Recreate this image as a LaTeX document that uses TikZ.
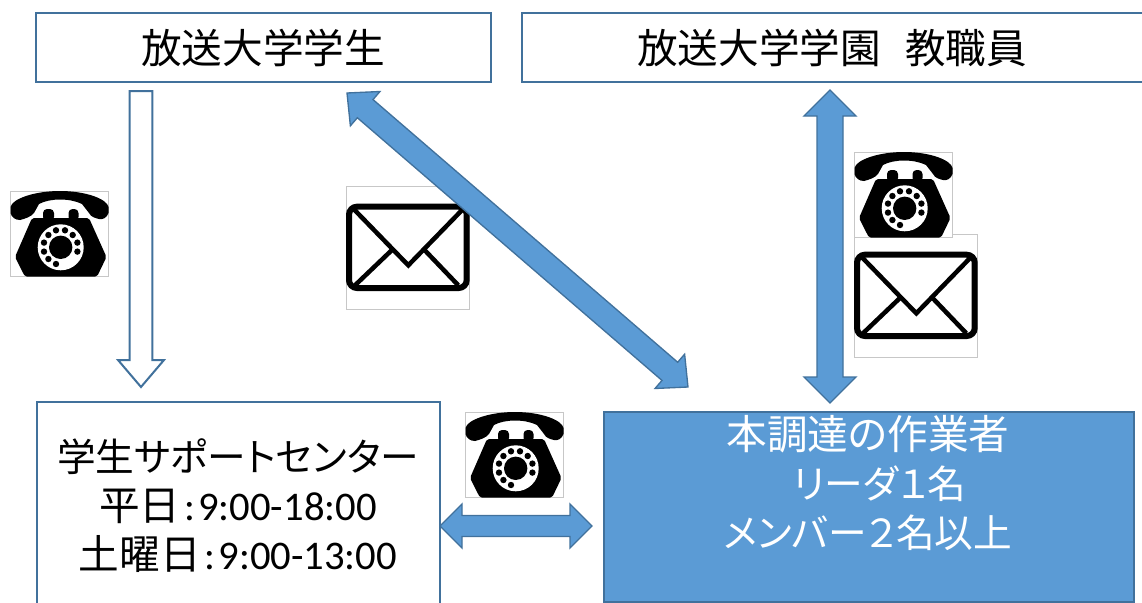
\documentclass[tikz,border=0pt]{standalone}
\usepackage{fontspec}
\usetikzlibrary{calc}
\setmainfont{Noto Sans CJK JP}[RawFeature={+palt}]
\newfontfamily\latinf{Carlito}
\definecolor{bluefill}{HTML}{5B9BD5}
\definecolor{blueline}{HTML}{41719C}
\newcommand{\bigline}{\fontsize{30.5pt}{36.75pt}\selectfont}
\tikzset{
  frame box/.style={draw=blueline,line width=1.5pt,fill=white,rectangle,inner sep=0pt},
  title text/.style={font=\fontsize{29pt}{36.75pt}\selectfont,text=black,align=center,inner sep=0pt},
  white text/.style={title text,text=white},
  filled arrow/.style={draw=blueline,line width=1pt,fill=bluefill,line join=miter},
  hollow arrow/.style={draw=blueline,line width=1.5pt,fill=white,line join=miter},
  icon frame/.style={draw=black!22,line width=0.5pt,fill=white},
  phone/.pic={
    \draw[icon frame] (0,0) rectangle (98.7,85.7);
    \fill[black] (0.5,16) .. controls (2,8) and (24,0) .. (50,0)
      .. controls (76,0) and (97,8) .. (98.5,16) -- (98.5,22)
      .. controls (97,27) and (92,29) .. (89,28)
      .. controls (85,27) and (81,26) .. (79,22) -- (72,13)
      .. controls (60,7) and (40,7) .. (29,13) -- (24,22)
      .. controls (21,26) and (14,28) .. (10,29)
      .. controls (5,29) and (1.5,26) .. (0.5,22) -- cycle;
    \fill[black,rounded corners=3pt] (33,30) -- (33,18) -- (44,18) -- (44,30) -- cycle;
    \fill[black,rounded corners=3pt] (58.5,30) -- (58.5,18) -- (68.5,18) -- (68.5,30) -- cycle;
    \fill[black,rounded corners=1.5pt] (22,27) -- (79,27) -- (96.5,66) -- (87,85.7) -- (15,85.7) -- (5,66) -- cycle;
    \fill[white] (50.7,56.3) circle[radius=23];
    \fill[black] (50.7,56.3) circle[radius=11.7];
    \foreach \dx/\dy in {-12.3/-12.3,-4.7/-17,4.3/-17,12/-12.3,16.7/-4.7,16.7/4.3,-16.7/-4.7,-16.7/4.3,-12.3/11.7,-4.7/16.7}
      \fill[black] ($(50.7,56.3)+(\dx,\dy)$) circle[radius=3.2];
  },
  mail/.pic={
    \draw[icon frame] (0,0) rectangle (123,123.3);
    \draw[black,line width=4.5pt,rounded corners=6pt] (3,20.7) rectangle (120.7,102);
    \draw[black,line width=3.4pt,line join=miter] (5.7,21) -- (62.3,79.3) -- (119,21);
    \draw[black,line width=3.4pt] (9,99.3) -- (47.3,62.7);
    \draw[black,line width=3.4pt] (112.3,99.3) -- (77.3,62.7);
  },
}
% tip a, tip b, head length, half head, half shaft (lengths in pt), style
\newcommand{\doublearrow}[6]{%
  \coordinate (h1) at ($(#1)!#3!(#2)$);
  \coordinate (h2) at ($(#2)!#3!(#1)$);
  \draw[#6] (#1) -- ($(h1)!#4!90:(#2)$) -- ($(h1)!#5!90:(#2)$)
    -- ($(h2)!#5!-90:(#1)$) -- ($(h2)!#4!-90:(#1)$) -- (#2)
    -- ($(h2)!#4!90:(#1)$) -- ($(h2)!#5!90:(#1)$)
    -- ($(h1)!#5!-90:(#2)$) -- ($(h1)!#4!-90:(#2)$) -- cycle;
}
\newcommand{\singlearrow}[6]{%
  \coordinate (h2) at ($(#2)!#3!(#1)$);
  \draw[#6] (#1) -- ($(#1)!#5!90:(#2)$) -- ($(h2)!#5!-90:(#1)$) -- ($(h2)!#4!-90:(#1)$) -- (#2)
    -- ($(h2)!#4!90:(#1)$) -- ($(h2)!#5!90:(#1)$) -- ($(#1)!#5!-90:(#2)$) -- cycle;
}
\begin{document}
\begin{tikzpicture}[x=0.75pt,y=-0.75pt]
\useasboundingbox (0,0) rectangle (1142,603);
\clip (0,0) rectangle (1142,603);
\node[frame box,minimum width=341.25pt,minimum height=51.75pt] (student) at (263.5,47.5) {};
\node[frame box,minimum width=471pt,minimum height=51.75pt] (staff) at (836,47.5) {};
\node[frame box,minimum width=302.25pt,minimum height=165pt] (support) at (238,512) {};
\node[draw=blueline,fill=bluefill,line width=1.5pt,rectangle,inner sep=0pt,minimum width=397.5pt,minimum height=142.5pt] (workers) at (869,507) {};
\node[title text,font=\bigline] (studentlabel) at (263,48) {放送大学学生};
\node[title text,font=\bigline] (stafflabel) at (832,48) {放送大学学園\hspace{18pt}教職員};
\node[title text,anchor=center] (supportlabel) at (238,506) {学生サポートセンター\\{\bigline 平日\hspace{3pt}{\latinf :\hspace{2pt}9:00-18:00}}\\{\bigline 土曜日\hspace{3pt}{\latinf :\hspace{2pt}9:00-13:00}}};
\node[white text,anchor=center] (workerlabel) at (868,483) {{\bigline 本調達の作業者}\\\hspace*{18pt}リーダ１名\\メンバー２名以上};
\pic at (10,191) {phone};
\pic at (346,186) {mail};
\pic at (854,234) {mail};
\pic at (854,152) {phone};
\pic at (465,412) {phone};
\coordinate (t1) at (141,91);
\coordinate (t2) at (141,387);
\singlearrow{t1}{t2}{20.25pt}{17.25pt}{8.5pt}{hollow arrow}
\coordinate (t3) at (347,93);
\coordinate (t4) at (688,387);
\doublearrow{t3}{t4}{18pt}{17pt}{9pt}{filled arrow}
\coordinate (t5) at (830,90);
\coordinate (t6) at (830,403);
\doublearrow{t5}{t6}{19.5pt}{19.5pt}{9.75pt}{filled arrow}
\coordinate (t7) at (440,526);
\coordinate (t8) at (592,526);
\doublearrow{t7}{t8}{16.5pt}{16.5pt}{7.9pt}{filled arrow}
\end{tikzpicture}
\end{document}
